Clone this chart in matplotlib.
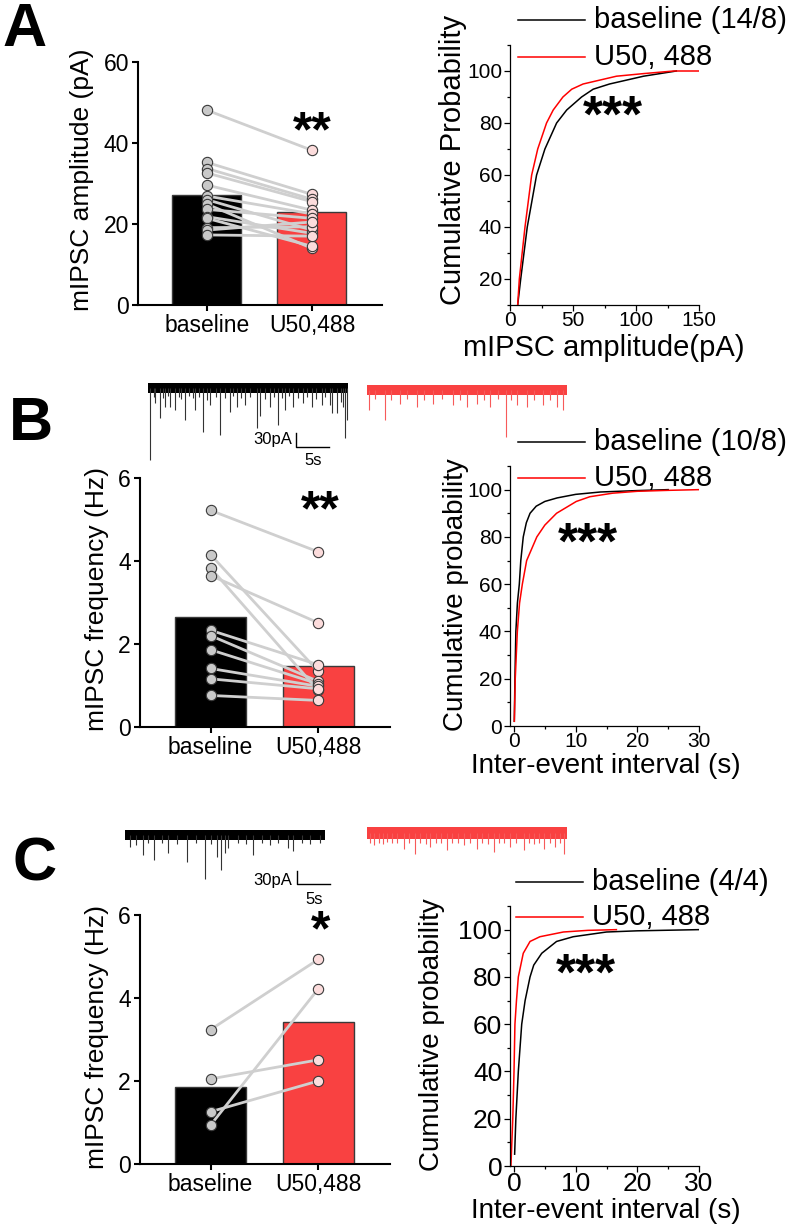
import numpy as np
import matplotlib
matplotlib.use("Agg")
import matplotlib.pyplot as plt
from matplotlib.lines import Line2D
from matplotlib.ticker import MultipleLocator

plt.rcParams['font.family'] = ['Liberation Sans', 'DejaVu Sans']

# ---------------- data ----------------
# A: mIPSC amplitude (pA), paired cells
amp_base = [48.1, 35.2, 33.7, 32.6, 29.6, 26.9, 26.0, 24.9, 23.6, 21.8, 21.4, 19.1, 18.5, 17.3]
amp_drug = [38.2, 27.3, 26.1, 25.5, 23.4, 22.5, 18.5, 14.0, 21.4, 17.7, 14.5, 19.3, 20.5, 17.0]
amp_means = [27.1, 23.0]

# A: cumulative amplitude distributions (pA, %)
cdfA_base_x = [6.1, 8.5, 13.7, 21.1, 27.7, 37, 45, 56.8, 66, 79, 106, 132]
cdfA_base_y = [10, 20, 40, 60, 70, 80, 85, 90, 93, 95, 98, 100]
cdfA_drug_x = [6.1, 7.4, 11.9, 17.2, 22, 29, 34.3, 42, 49, 58, 84.5, 106, 130, 150]
cdfA_drug_y = [10, 20, 40, 60, 70, 80, 85, 90, 93, 95, 98, 99, 100, 100]

# B: mIPSC frequency (Hz)
frqB_base = [5.22, 4.15, 3.83, 3.65, 2.33, 2.20, 1.86, 1.41, 1.16, 0.76]
frqB_drug = [4.22, 1.34, 0.88, 2.51, 1.50, 1.10, 1.04, 0.98, 0.92, 0.64]
frqB_means = [2.65, 1.46]

cdfB_base_x = [0.05, 0.15, 0.3, 0.55, 0.86, 1.1, 1.5, 2.0, 2.6, 3.6, 5.0, 7.0, 10, 14, 20, 25]
cdfB_base_y = [2, 20, 40, 52, 60, 70, 80, 86, 90, 93, 95, 96.5, 98, 99, 99.6, 100]
cdfB_drug_x = [0.05, 0.2, 0.54, 0.9, 1.35, 2.05, 3.7, 5.0, 6.9, 8.5, 10.1, 12.3, 16, 20, 25, 30]
cdfB_drug_y = [2, 20, 40, 52, 60, 70, 80, 85, 90, 92.5, 95, 97, 98.5, 99.3, 99.7, 100]

# C: mIPSC frequency (Hz)
frqC_base = [3.24, 2.05, 1.26, 0.94]
frqC_drug = [4.93, 2.51, 2.00, 4.22]
frqC_means = [1.86, 3.41]

cdfC_base_x = [0.1, 0.3, 0.7, 1.25, 1.8, 2.6, 3.2, 4.5, 6.9, 9.6, 15, 20, 30]
cdfC_base_y = [5, 20, 40, 60, 70, 80, 85, 90, 95, 97, 99, 99.5, 100]
cdfC_drug_x = [-0.5, -0.2, 0.0, 0.15, 0.4, 0.7, 1.5, 2.6, 4.2, 8.0, 12, 16.6]
cdfC_drug_y = [0, 20, 40, 60, 70, 80, 90, 95, 97, 99, 99.7, 100]

# example traces: event times (s) and amplitudes (pA)
trB_base_t = [0.3, 0.9, 1.05, 1.8, 2.2, 2.55, 3.0, 3.3, 4.05, 4.6, 5.0, 5.55, 6.2, 6.8, 7.05, 7.6, 8.3, 8.8,
              9.3, 10.2, 10.8, 11.5, 12.3, 12.8, 13.3, 13.9, 14.55, 15.3, 16.3, 16.8, 17.5, 18.3, 18.9, 19.55,
              20.1, 20.55, 21.2, 21.8, 22.5, 23.3, 23.9, 24.55, 25.2, 26.05, 26.6, 27.3, 27.55, 28.3, 28.9,
              29.2, 29.55, 29.9]
trB_base_a = [154, 20, 33, 65, 22, 40, 18, 40, 47, 20, 24, 69, 18, 22, 47, 20, 94, 25, 36, 20, 101, 22, 51,
              18, 40, 22, 36, 20, 86, 61, 24, 40, 20, 79, 22, 47, 18, 40, 22, 33, 20, 40, 24, 36, 20, 36, 54,
              54, 30, 40, 108, 69]
trB_drug_t = [0.35, 1.2, 2.7, 3.6, 4.95, 6.0, 7.45, 8.6, 9.95, 11.2, 12.95, 14.0, 14.95, 16.45, 17.5, 18.45,
              19.6, 20.8, 21.6, 22.45, 23.95, 25.0, 26.45, 27.5, 28.45, 29.45]
trB_drug_a = [43, 20, 64, 22, 29, 20, 36, 22, 29, 20, 32, 22, 36, 29, 22, 36, 20, 100, 22, 32, 36, 22, 32,
              22, 36, 43]
trC_base_t = [0.75, 1.65, 2.75, 3.5, 4.4, 5.6, 6.5, 7.8, 9.35, 10.6, 12.0, 12.9, 13.75, 14.35, 15.0, 15.5,
              17.0, 18.2, 19.25, 20.5, 21.75, 23.0, 24.5, 25.15, 26.5, 27.8, 29.25]
trC_base_a = [27, 23, 46, 18, 58, 18, 42, 20, 62, 18, 102, 20, 50, 81, 42, 31, 18, 20, 46, 18, 23, 18, 31,
              38, 18, 20, 19]
trC_drug_t = [0.4, 1.0, 1.8, 2.4, 3.0, 3.7, 4.5, 5.5, 6.3, 7.25, 8.0, 8.8, 9.5, 10.3, 11.1, 12.0, 12.8, 13.6,
              14.5, 15.4, 16.5, 17.3, 18.1, 19.0, 19.8, 20.6, 21.5, 22.4, 23.5, 24.3, 25.1, 25.8, 26.5, 27.4,
              28.25, 29.0, 29.5]
trC_drug_a = [24, 28, 22, 26, 21, 24, 22, 36, 24, 48, 22, 26, 32, 22, 24, 40, 22, 24, 28, 24, 36, 22, 26,
              44, 22, 24, 32, 24, 40, 22, 26, 24, 36, 22, 32, 24, 48]

groups = ['baseline', 'U50,488']
BLACK = '#000000'
RED = '#f94141'

# ---------------- layout helpers ----------------
W, H = 790, 1226
fig = plt.figure(figsize=(W / 100, H / 100), dpi=100)


def px_axes(l, t, r, b):
    return fig.add_axes([l / W, 1 - b / H, (r - l) / W, (b - t) / H])


def ftext(x, y, s, **kw):
    fig.text(x / W, 1 - y / H, s, **kw)


def bar_panel(ax, base, drug, means, ymax, step, ylabel_pos, ylabel):
    ax.bar([0, 1], means, width=0.657, color=[BLACK, RED], edgecolor='#3a3a3a', linewidth=1, zorder=1)
    for b, d in zip(base, drug):
        ax.plot([0, 1], [b, d], color='#cfcfcf', lw=2, zorder=2, solid_capstyle='round')
    ax.scatter(np.zeros(len(base)), base, s=55, c='#c9c9c9', edgecolors='#3a3a3a', linewidths=0.8,
               zorder=3, clip_on=False)
    ax.scatter(np.ones(len(drug)), drug, s=55, c='#fcdcdc', edgecolors='#3a3a3a', linewidths=0.8,
               zorder=3, clip_on=False)
    ax.set_xlim(-0.657, 1.667)
    ax.set_ylim(0, ymax)
    ax.yaxis.set_major_locator(MultipleLocator(step))
    ax.set_xticks([0, 1])
    ax.set_xticklabels(groups)
    for s in ['top', 'right']:
        ax.spines[s].set_visible(False)
    for s in ['left', 'bottom']:
        ax.spines[s].set_linewidth(1.5)
    ax.tick_params(direction='out', length=4.5, width=1.5, labelsize=16.5, pad=2)
    ftext(ylabel_pos[0], ylabel_pos[1], ylabel, rotation=90, ha='center', va='center', fontsize=19)


def cdf_panel(ax, bx, by, dx, dy, xlim, ylim, xmaj, xmin, ymaj, ymin, fs_tick):
    ax.plot(bx, by, color='black', lw=1.1)
    ax.plot(dx, dy, color='#ff0000', lw=1.1)
    ax.set_xlim(*xlim)
    ax.set_ylim(*ylim)
    ax.xaxis.set_major_locator(MultipleLocator(xmaj))
    ax.xaxis.set_minor_locator(MultipleLocator(xmin))
    ax.yaxis.set_major_locator(MultipleLocator(ymaj))
    ax.yaxis.set_minor_locator(MultipleLocator(ymin))
    for s in ['top', 'right']:
        ax.spines[s].set_visible(False)
    for s in ['left', 'bottom']:
        ax.spines[s].set_linewidth(0.9)
    ax.tick_params(which='major', direction='out', length=4.5, width=0.9, labelsize=fs_tick, pad=1)
    ax.tick_params(axis='x', which='major', pad=0)
    ax.tick_params(which='minor', direction='out', length=2.5, width=0.9)


def legend(y1, y2, label1, x0=518, x1=585, xt=594, fs=21):
    fig.add_artist(Line2D([x0 / W, x1 / W], [1 - y1 / H, 1 - y1 / H], color='black', lw=1.1))
    fig.add_artist(Line2D([x0 / W, x1 / W], [1 - y2 / H, 1 - y2 / H], color='#ff0000', lw=1.1))
    ftext(xt, y1, label1, ha='left', va='center', fontsize=fs)
    ftext(xt, y2, 'U50, 488', ha='left', va='center', fontsize=fs)


def trace(ax, t0, offset, times, amps, color, band, ev_color):
    ax.fill_between([t0, t0 + 30], offset - band, offset + band, color=color, lw=0)
    ax.vlines(np.array(times) + t0, offset, offset - np.array(amps), color=ev_color, lw=0.8)


def stars(x, y, s, fs=36):
    ftext(x, y, s, ha='center', va='center', fontsize=fs, fontweight='bold')


# ---------------- panel A ----------------
ftext(25, 30, 'A', ha='center', va='center', fontsize=44, fontweight='bold')
axA = px_axes(138, 62, 382, 305)
bar_panel(axA, amp_base, amp_drug, amp_means, 60, 20, (82, 180), 'mIPSC amplitude (pA)')
stars(312, 133, '**')

axA2 = px_axes(510, 45, 699, 305)
cdf_panel(axA2, cdfA_base_x, cdfA_base_y, cdfA_drug_x, cdfA_drug_y, (0, 150), (10, 110), 50, 25, 20, 10, 15)
ftext(453, 160, 'Cumulative Probability', rotation=90, ha='center', va='center', fontsize=21)
ftext(604, 348, 'mIPSC amplitude(pA)', ha='center', va='center', fontsize=21)
legend(20, 57, 'baseline (14/8)')
stars(613, 118, '***', 37)

# ---------------- panel B ----------------
ftext(31, 424, 'B', ha='center', va='center', fontsize=44, fontweight='bold')
axBt = px_axes(140, 370, 590, 470)
axBt.set_xlim(0, 67.5)
axBt.set_ylim(-175.6, 38.5)
axBt.axis('off')
trace(axBt, 1.2, 0, trB_base_t, trB_base_a, BLACK, 11, '#333333')
trace(axBt, 34.05, -4.3, trB_drug_t, trB_drug_a, RED, 11, '#f75a5a')
axBt.plot([23.4, 23.4, 28.4], [-96.4, -126.4, -126.4], color='black', lw=1)
axBt.text(22.8, -111, '30pA', ha='right', va='center', fontsize=12)
axBt.text(25.9, -156, '5s', ha='center', va='center', fontsize=12)

axB = px_axes(140, 478, 390, 727)
bar_panel(axB, frqB_base, frqB_drug, frqB_means, 6, 2, (97, 599), 'mIPSC frequency (Hz)')
stars(320, 512, '**')

axB2 = px_axes(510, 466, 699, 726)
cdf_panel(axB2, cdfB_base_x, cdfB_base_y, cdfB_drug_x, cdfB_drug_y, (-0.65, 30), (0, 110), 10, 5, 20, 10, 15)
ftext(456, 595, 'Cumulative probability', rotation=90, ha='center', va='center', fontsize=20)
ftext(606, 766, 'Inter-event interval (s)', ha='center', va='center', fontsize=20)
legend(442, 478, 'baseline (10/8)')
stars(588, 545, '***', 37)

# ---------------- panel C ----------------
ftext(35, 865, 'C', ha='center', va='center', fontsize=44, fontweight='bold')
axCt = px_axes(120, 815, 590, 910)
axCt.set_xlim(0, 70.5)
axCt.set_ylim(-173.2, 46.2)
axCt.axis('off')
trace(axCt, 0.75, 0, trC_base_t, trC_base_a, BLACK, 11.5, '#333333')
trace(axCt, 37.05, 4.6, trC_drug_t, trC_drug_a, RED, 13, '#f75a5a')
axCt.plot([26.55, 26.55, 31.5], [-83.1, -113.2, -113.2], color='black', lw=1)
axCt.text(25.8, -106, '30pA', ha='right', va='center', fontsize=12)
axCt.text(29.1, -150, '5s', ha='center', va='center', fontsize=12)

axC = px_axes(140, 915, 390, 1164)
bar_panel(axC, frqC_base, frqC_drug, frqC_means, 6, 2, (97, 1037), 'mIPSC frequency (Hz)')
stars(321, 932, '*')

axC2 = px_axes(510, 906, 699, 1166)
cdf_panel(axC2, cdfC_base_x, cdfC_base_y, cdfC_drug_x, cdfC_drug_y, (-0.65, 30), (0, 110), 10, 5, 20, 10, 19)
ftext(432, 1035, 'Cumulative probability', rotation=90, ha='center', va='center', fontsize=20)
ftext(606, 1211, 'Inter-event interval (s)', ha='center', va='center', fontsize=20)
legend(882, 917, 'baseline (4/4)', x0=516, x1=583, xt=592)
stars(586, 976, '***', 37)

fig.savefig('out.png', dpi=100)
